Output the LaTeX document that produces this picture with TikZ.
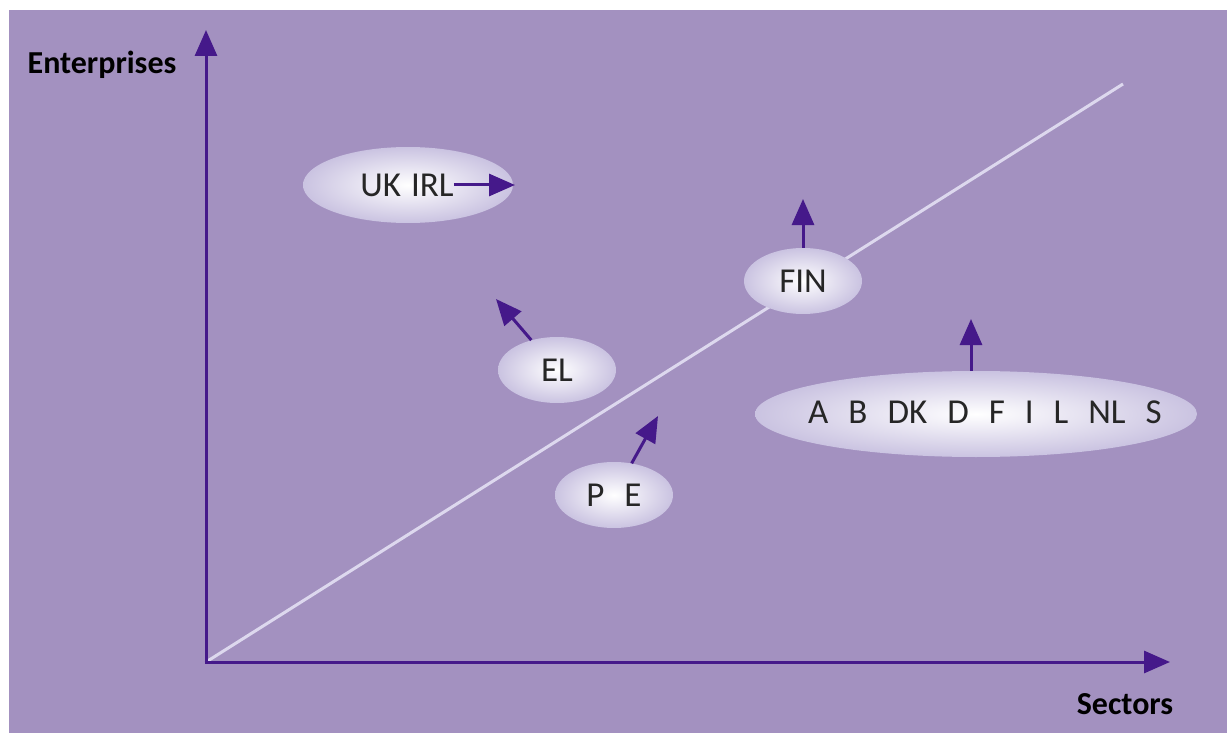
\documentclass[tikz,border=0pt]{standalone}
\usepackage{fontspec}
\setmainfont{Carlito}
\usetikzlibrary{arrows.meta,shapes.geometric}
\definecolor{bgpurple}{HTML}{A391C0}
\definecolor{darkpurple}{HTML}{45198A}
\definecolor{diagline}{HTML}{DDD8EE}
\definecolor{ellout}{HTML}{CAC3E1}
\tikzset{
  axis/.style={draw=darkpurple, line width=3pt, -{Triangle[length=26pt,width=22pt]}},
  move/.style={draw=darkpurple, line width=3pt, -{Triangle[length=26pt,width=22pt]}},
  blob/.style={ellipse, inner sep=0pt, shading=radial, inner color=white, outer color=ellout, draw=none},
  lbl/.style={font=\fontsize{35}{35}\selectfont, text=black!85, inner sep=0pt},
  axlbl/.style={font=\fontsize{32}{32}\selectfont\bfseries, text=black, inner sep=0pt}
}
\begin{document}
\begin{tikzpicture}[x=1pt,y=-1pt]
\useasboundingbox (0,0) rectangle (1227,733);
\fill[bgpurple] (9,10) rectangle (1227,733);
% axes
\coordinate (o) at (206,662);
\coordinate (ytip) at (206,30);
\coordinate (xtip) at (1170,662);
\coordinate (dend) at (1123,84);
\draw[diagline, line width=3pt] (o) -- (dend);
\draw[axis] (o) -- (ytip);
\draw[axis] ([xshift=-1.5pt]o) -- (xtip);
\node[axlbl] (ent) at (102,65) {Enterprises};
\node[axlbl] (sec) at (1125,704) {Sectors};
% ellipses
\node[blob, minimum width=210pt, minimum height=76pt] (uk) at (408,185) {};
\node[lbl] (uktxt) at (407,185) {UK\hspace{10pt}IRL};
\coordinate (uktip) at (515,185);
\draw[move] (uktxt.east) -- (uktip);

\node[blob, minimum width=118pt, minimum height=66pt, lbl] (el) at (557,370) {EL};
\coordinate (eltip) at (496,299);
\draw[move] (el) -- (eltip);

\node[blob, minimum width=118pt, minimum height=66pt, lbl] (pe) at (614,495) {P\hspace{20pt}E};
\coordinate (petip) at (658,416);
\draw[move] (pe) -- (petip);

\node[blob, minimum width=118pt, minimum height=66pt, lbl] (fin) at (803,281) {FIN};
\coordinate (fintip) at (803,199);
\draw[move] (fin) -- (fintip);

\node[blob, minimum width=442pt, minimum height=86pt] (big) at (976,414) {};
\node[lbl] (bigtxt) at (985,412) {A\hspace{20pt}B\hspace{20pt}DK\hspace{20pt}D\hspace{20pt}F\hspace{20pt}I\hspace{20pt}L\hspace{20pt}NL\hspace{20pt}S};
\coordinate (bigtip) at (971,319);
\draw[move] (big.north -| bigtip) -- (bigtip);
\end{tikzpicture}
\end{document}
